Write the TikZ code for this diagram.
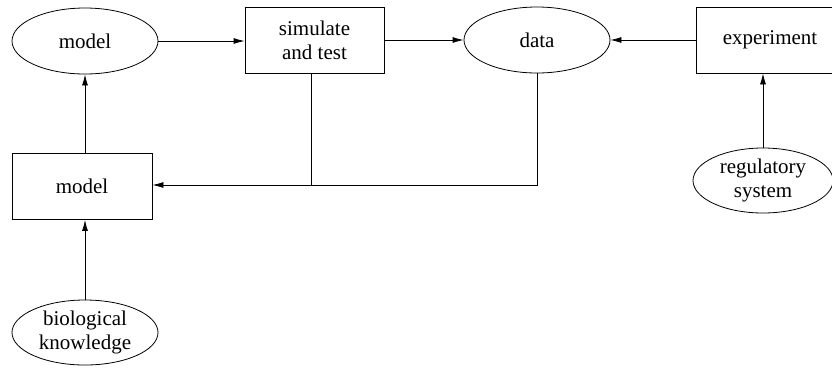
\documentclass[tikz,border=0pt]{standalone}
\usepackage{fontspec}
\setmainfont{Liberation Serif}
\usetikzlibrary{shapes.geometric,arrows.meta}
\begin{document}
\begin{tikzpicture}[x=1pt,y=-1pt,
  every node/.style={font=\fontsize{21}{24}\selectfont, align=center, inner sep=0pt, line width=0.8pt, draw},
  ell/.style={ellipse, minimum width=146pt, minimum height=66pt},
  box/.style={rectangle, minimum width=140pt, minimum height=66pt},
  conn/.style={line width=0.8pt, -{Latex[length=11pt,width=6pt]}},
  plain/.style={line width=0.8pt}]
\useasboundingbox (0,0) rectangle (832,368);
\node[ell] (m1) at (85,41) {model};
\node[box, minimum width=139pt] (sim) at (314.5,40) {simulate\\and test};
\node[ell] (data) at (537,40) {data};
\node[box, minimum width=148pt] (exp) at (770,40) {experiment};
\node[box] (m2) at (82,186.5) {model};
\node[ell, minimum width=146pt, minimum height=65pt] (bio) at (85,332.5) {biological\\knowledge};
\node[ell, minimum width=140pt, minimum height=65pt] (reg) at (763,180.5) {regulatory\\system};
\coordinate (j1) at (311,185);
\coordinate (j2) at (537,185);
\draw[conn] (m1.east) -- (sim.west |- m1.east);
\draw[conn] (sim.east) -- (data.west);
\draw[conn] (exp.west) -- (data.east);
\draw[conn] (m2.north -| m1.south) -- (m1.south);
\draw[conn] (bio.north) -- (m2.south -| bio.north);
\draw[conn] (reg.north) -- (exp.south -| reg.north);
\draw[plain] (sim.south -| j1) -- (j1);
\draw[conn] (data.south) -- (j2) -- (m2.east |- j2);
\end{tikzpicture}
\end{document}
